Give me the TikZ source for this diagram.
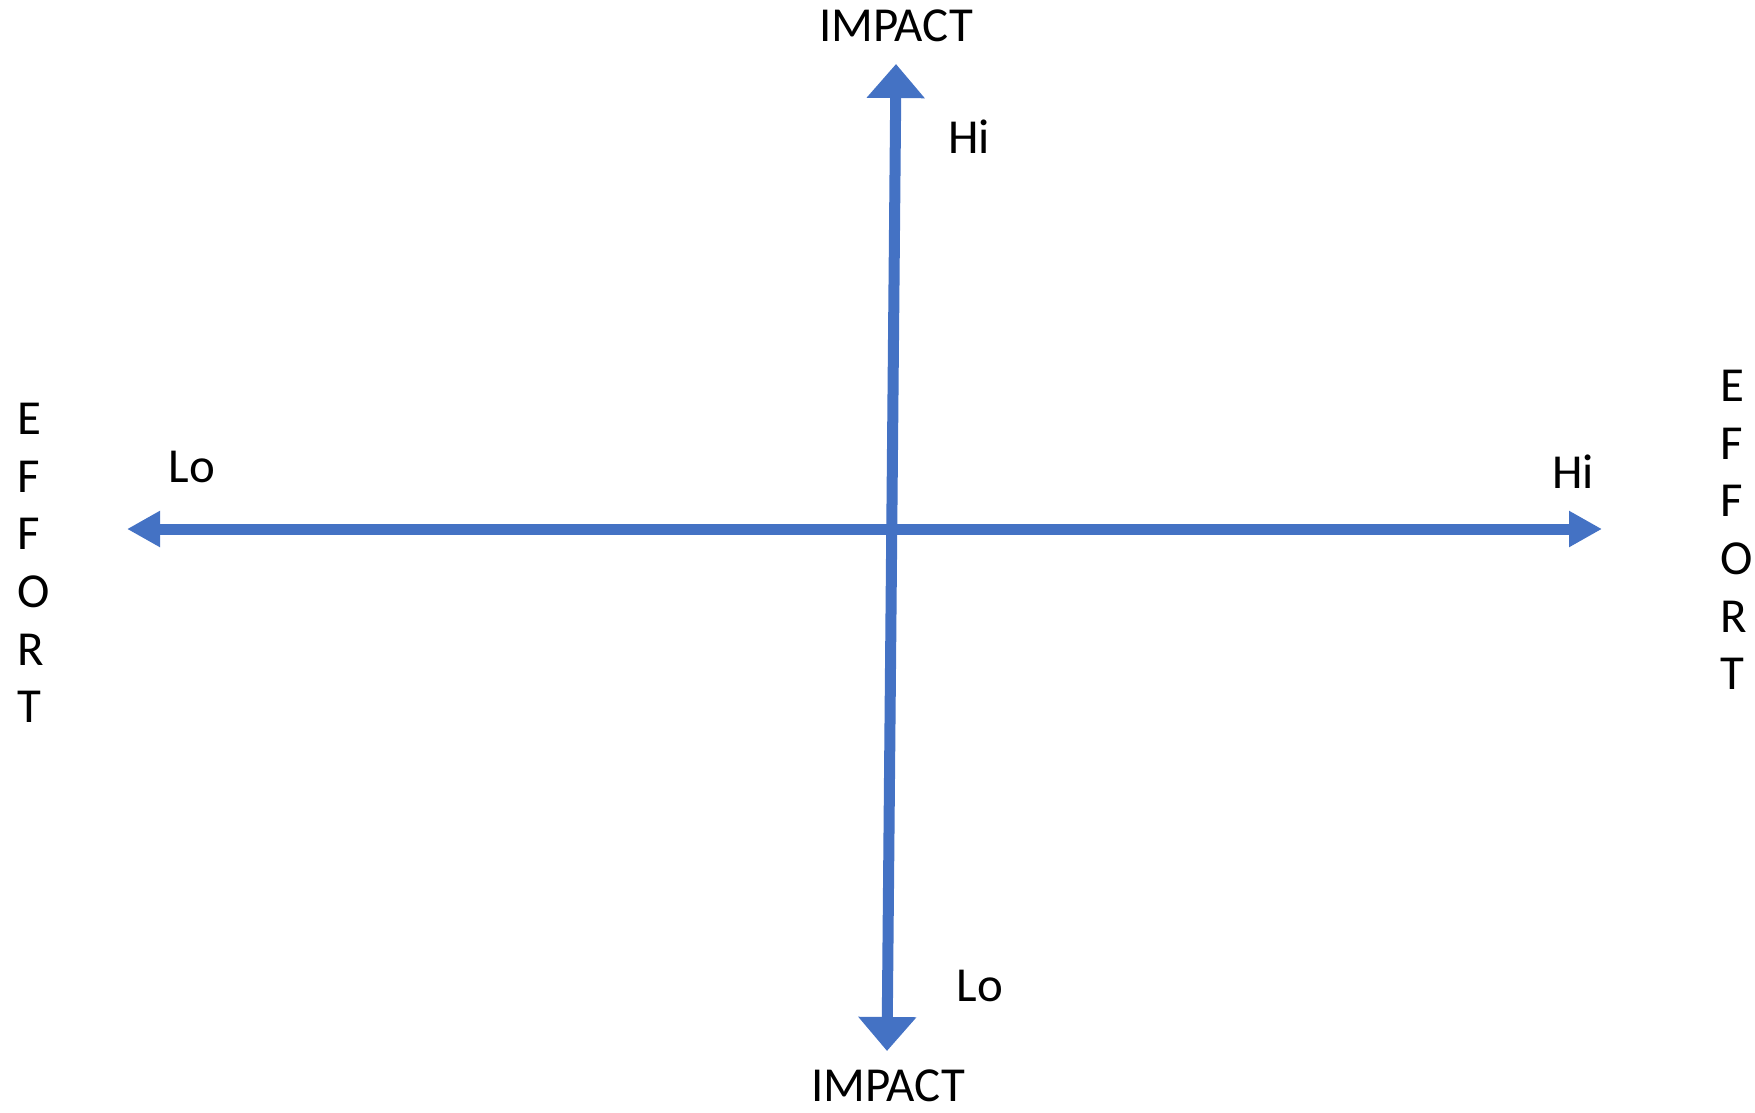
\documentclass[tikz,border=0pt]{standalone}
\usepackage{fontspec}
\setmainfont{Carlito}
\usepackage{xcolor}
\definecolor{blue_axis}{RGB}{68,114,196}
\usetikzlibrary{arrows.meta,positioning}

\begin{document}
\begin{tikzpicture}
[	x=0.01cm, y=-0.01cm,
	axis/.style={draw=blue_axis, line width=0.11cm},
	vaxis/.style={axis, {Triangle[length=0.34cm,width=0.56cm]}-{Triangle[length=0.34cm,width=0.56cm]}},
	haxis/.style={axis, {Triangle[length=0.33cm,width=0.34cm]}-{Triangle[length=0.33cm,width=0.34cm]}},
	lbl/.style={inner sep=0pt, font=\fontsize{13.9}{16.4}\selectfont},
	vword/.style={lbl, align=left, anchor=west}
]
\useasboundingbox (0,0) rectangle (1755,1112);

% axis ends
\coordinate (impacthi) at (896,64);
\coordinate (impactlo) at (887,1051);
\coordinate (effortlo) at (127,529);
\coordinate (efforthi) at (1602,529);

% axes
\draw[vaxis] (impactlo) -- (impacthi);
\draw[haxis] (effortlo) -- (efforthi);

% titles
\node(impacttop)[lbl] at (896,26) {IMPACT};
\node(impactbot)[lbl] at (888,1086) {IMPACT};
\node(effortleft)[vword] at (17,563) {E\\F\\F\\O\\R\\T};
\node(effortright)[vword] at (1720,530) {E\\F\\F\\O\\R\\T};

% hi / lo marks
\node(impacthilbl)[lbl] at (969,137) {Hi};
\node(impactlolbl)[lbl] at (980,986) {Lo};
\node(effortlolbl)[lbl] at (192,467) {Lo};
\node(efforthilbl)[lbl] at (1573,472) {Hi};

\end{tikzpicture}
\end{document}
